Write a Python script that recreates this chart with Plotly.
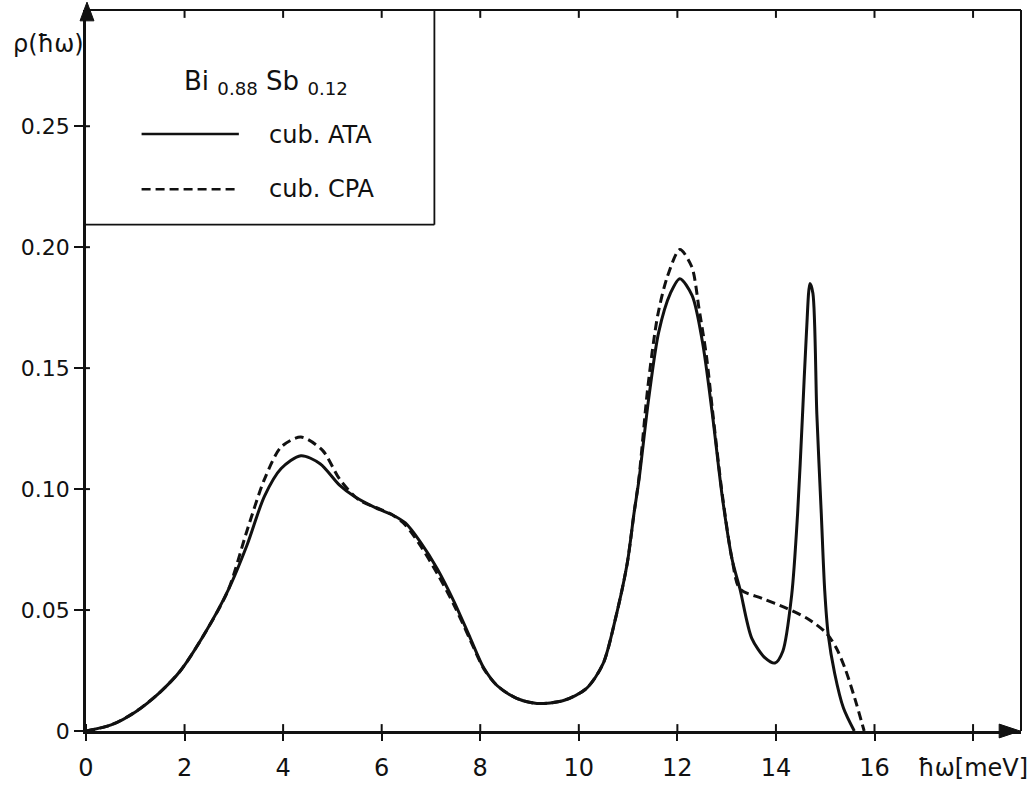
import plotly.graph_objects as go

# ---------------- data ----------------
energy_ata = [0, 0.51, 1.01, 1.50, 1.92, 2.43, 2.88, 3.27, 3.62, 3.96, 4.36, 4.75, 5.15,
              5.44, 5.88, 6.23, 6.48, 6.79, 7.13, 7.47, 7.80, 8.07, 8.34, 8.74, 9.15,
              9.69, 10.15, 10.49, 10.75, 10.98, 11.12, 11.22, 11.42, 11.62, 11.86, 12.05,
              12.30, 12.51, 12.71, 12.91, 13.11, 13.27, 13.51, 13.78, 13.98, 14.14, 14.32,
              14.44, 14.54, 14.62, 14.69, 14.75, 14.83, 14.92, 14.99, 15.06, 15.19, 15.37,
              15.59]
dos_ata = [0, 0.0025, 0.008, 0.016, 0.025, 0.041, 0.058, 0.077, 0.097, 0.1085, 0.1138,
           0.1105, 0.1015, 0.097, 0.0922, 0.0892, 0.086, 0.078, 0.067, 0.0534, 0.0383,
           0.0261, 0.0188, 0.0135, 0.0114, 0.0126, 0.0175, 0.0277, 0.047, 0.069, 0.09,
           0.1037, 0.1377, 0.1648, 0.181, 0.187, 0.18, 0.1607, 0.131, 0.097, 0.071,
           0.0587, 0.0383, 0.0302, 0.0281, 0.033, 0.0563, 0.09, 0.131, 0.165, 0.185,
           0.181, 0.131, 0.09, 0.058, 0.040, 0.024, 0.0095, 0]

energy_cpa = [0, 0.51, 1.01, 1.50, 1.92, 2.43, 2.88, 3.27, 3.62, 3.96, 4.36, 4.80, 5.15,
              5.54, 5.93, 6.23, 6.48, 6.79, 7.13, 7.47, 7.80, 8.07, 8.34, 8.74, 9.15,
              9.69, 10.15, 10.49, 10.75, 10.98, 11.12, 11.22, 11.40, 11.60, 11.80, 12.05,
              12.29, 12.44, 12.59, 12.71, 12.91, 13.11, 13.27, 13.72, 14.21, 14.66, 15.02,
              15.22, 15.40, 15.60, 15.79]
dos_cpa = [0, 0.0025, 0.008, 0.016, 0.025, 0.041, 0.058, 0.083, 0.104, 0.1174, 0.1215,
           0.116, 0.104, 0.0955, 0.092, 0.0892, 0.0852, 0.0765, 0.065, 0.052, 0.0375,
           0.0258, 0.0188, 0.0135, 0.0114, 0.0126, 0.0175, 0.0277, 0.047, 0.069, 0.09,
           0.1045, 0.142, 0.1717, 0.188, 0.199, 0.192, 0.1745, 0.155, 0.133, 0.098,
           0.071, 0.0587, 0.0548, 0.0508, 0.0462, 0.0405, 0.0345, 0.026, 0.0135, 0]

x_tickvals = [0, 2, 4, 6, 8, 10, 12, 14, 16, 18]
x_ticktext = ["0", "2", "4", "6", "8", "10", "12", "14", "16", "ħω[meV]"]
y_tickvals = [0, 0.05, 0.10, 0.15, 0.20, 0.25]
y_ticktext = ["0", "0.05", "0.10", "0.15", "0.20", "0.25"]

series_names = ["cub. ATA", "cub. CPA"]
title_text = "Bi&nbsp;<sub>0.88</sub>&nbsp;Sb&nbsp;<sub>0.12</sub>"
y_title = "ρ(ħω)"

# ---------------- layout geometry (pixels) ----------------
W_FIG, H_FIG = 1035, 789
L, R, T, B = 86, 1028, 10, 742
PW, PH = R - L, B - T
X_MAX = PW / 49.65
Y_MAX = PH / 2456.0
INK = "#111111"
FONT = "DejaVu Sans"


def px(xp):
    return (xp - L) / PW


def py(yp):
    return (B - yp) / PH


fig = go.Figure()
fig.add_trace(go.Scatter(x=energy_ata, y=dos_ata, mode="lines", name=series_names[0],
                         line=dict(color=INK, width=3, shape="spline", smoothing=0.8),
                         showlegend=False))
fig.add_trace(go.Scatter(x=energy_cpa, y=dos_cpa, mode="lines", name=series_names[1],
                         line=dict(color=INK, width=3, dash="9px,5px", shape="spline",
                                   smoothing=0.8),
                         showlegend=False))

shapes = []
# inner halves of the crossing ticks on the bottom axis and top-frame ticks
for v in x_tickvals:
    shapes.append(dict(type="line", xref="x", yref="paper", x0=v, x1=v, y0=0, y1=7 / PH,
                       line=dict(color=INK, width=2)))
    if v > 0:
        shapes.append(dict(type="line", xref="x", yref="paper", x0=v, x1=v,
                           y0=1, y1=1 - 8 / PH, line=dict(color=INK, width=2)))
for v in y_tickvals:
    shapes.append(dict(type="line", xref="paper", yref="y", x0=0, x1=4 / PW, y0=v, y1=v,
                       line=dict(color=INK, width=2)))
# frame: top and right
shapes.append(dict(type="line", xref="paper", yref="paper", x0=0, x1=1, y0=1, y1=1,
                   line=dict(color=INK, width=2)))
shapes.append(dict(type="line", xref="paper", yref="paper", x0=1, x1=1,
                   y0=0, y1=1, line=dict(color=INK, width=2)))
# arrows
shapes.append(dict(type="path", xref="paper", yref="paper",
                   path=f"M {px(1027)},{py(742)} L {px(1006)},{py(735)} L {px(1006)},{py(749)} Z",
                   fillcolor=INK, line=dict(color=INK, width=1)))
shapes.append(dict(type="path", xref="paper", yref="paper",
                   path=f"M {px(87)},{py(2)} L {px(80)},{py(21)} L {px(94)},{py(21)} Z",
                   fillcolor=INK, line=dict(color=INK, width=1)))
# legend box
shapes.append(dict(type="line", xref="paper", yref="paper", x0=px(437), x1=px(437),
                   y0=py(10), y1=py(228), line=dict(color=INK, width=1.8)))
shapes.append(dict(type="line", xref="paper", yref="paper", x0=px(85), x1=px(437),
                   y0=py(228), y1=py(228), line=dict(color=INK, width=1.8)))
# legend samples
shapes.append(dict(type="line", xref="paper", yref="paper", x0=px(142), x1=px(240),
                   y0=py(136), y1=py(136), line=dict(color=INK, width=2.5)))
shapes.append(dict(type="line", xref="paper", yref="paper", x0=px(142), x1=px(240),
                   y0=py(192), y1=py(192), line=dict(color=INK, width=2.5, dash="9px,5px")))

annotations = [
    dict(xref="paper", yref="paper", x=px(267), y=py(84), text=title_text, showarrow=False,
         xanchor="center", yanchor="middle", font=dict(family=FONT, size=26, color=INK)),
    dict(xref="paper", yref="paper", x=px(268), y=py(137), text=series_names[0],
         showarrow=False, xanchor="left", yanchor="middle",
         font=dict(family=FONT, size=24, color=INK)),
    dict(xref="paper", yref="paper", x=px(268), y=py(192), text=series_names[1],
         showarrow=False, xanchor="left", yanchor="middle",
         font=dict(family=FONT, size=24, color=INK)),
    dict(xref="paper", yref="paper", x=px(86), y=py(45), text=y_title, showarrow=False,
         xanchor="right", yanchor="middle", font=dict(family=FONT, size=24, color=INK)),
]

fig.update_layout(
    width=W_FIG, height=H_FIG,
    margin=dict(l=L, r=W_FIG - R, t=T, b=H_FIG - B, pad=0),
    paper_bgcolor="white", plot_bgcolor="white",
    shapes=shapes, annotations=annotations,
    xaxis=dict(range=[0, X_MAX], tickvals=x_tickvals, ticktext=x_ticktext,
               ticks="outside", ticklen=7, tickwidth=2, tickcolor=INK,
               showline=True, linecolor=INK, linewidth=2.5, showgrid=False, zeroline=False,
               tickfont=dict(family=FONT, size=24, color=INK), ticklabelstandoff=6),
    yaxis=dict(range=[0, Y_MAX], tickvals=y_tickvals, ticktext=y_ticktext,
               ticks="outside", ticklen=9, tickwidth=2, tickcolor=INK,
               showline=True, linecolor=INK, linewidth=2.5, showgrid=False, zeroline=False,
               tickfont=dict(family=FONT, size=22, color=INK)),
    showlegend=False,
)

fig.write_html("out.html")
